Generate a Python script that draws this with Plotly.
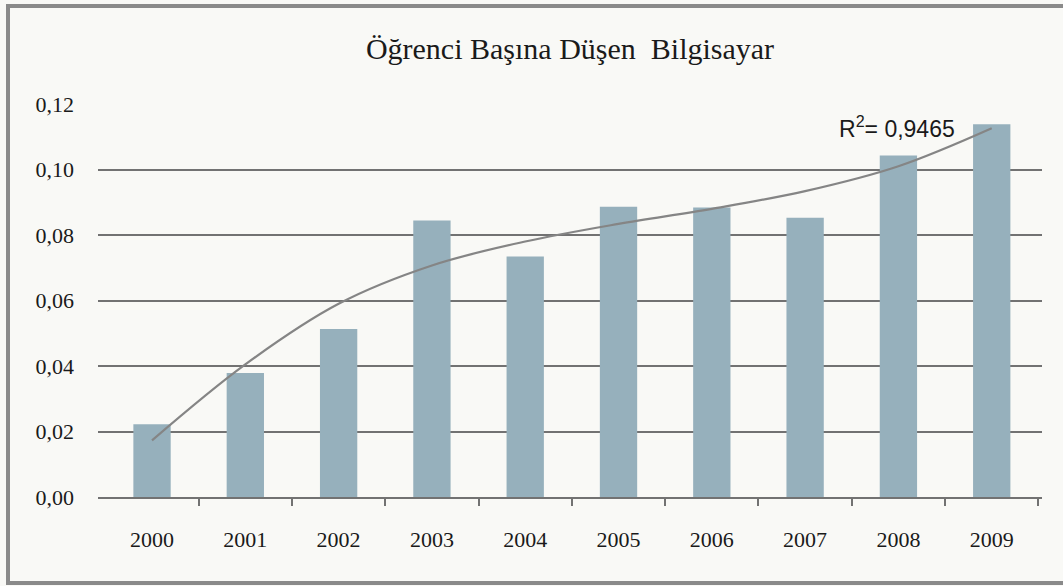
import plotly.graph_objects as go

years = [2000, 2001, 2002, 2003, 2004, 2005, 2006, 2007, 2008, 2009]
values = [0.0222, 0.0379, 0.0513, 0.0844, 0.0734, 0.0886, 0.0884, 0.0853, 0.1043, 0.1138]
trend = [0.0173, 0.0405, 0.0590, 0.0707, 0.0780, 0.0834, 0.0880, 0.0934, 0.1010, 0.1126]
year_labels = [str(y) for y in years]
y_ticks = [0.00, 0.02, 0.04, 0.06, 0.08, 0.10, 0.12]
title_text = "Öğrenci Başına Düşen  Bilgisayar"
r2_text = "R<sup>2</sup>= 0,9465"

W, H = 1063, 586
L, R, T, B = 98, 21, 104, 89
pw, ph = W - L - R, H - T - B

def px_x(p):
    return (p - L) / pw

def px_y(p):
    return (H - B - p) / ph

grid_col = "#727272"
fig = go.Figure()
fig.add_trace(go.Bar(x=years, y=values, marker=dict(color="#96B0BC", line=dict(width=0)),
                     width=0.4, showlegend=False))
fig.add_trace(go.Scatter(x=years, y=trend, mode="lines",
                         line=dict(color="#858585", width=2.2, shape="spline", smoothing=1.0),
                         showlegend=False))

fig.update_layout(
    width=W, height=H,
    margin=dict(l=L, r=R, t=T, b=B),
    paper_bgcolor="#F9F9F6",
    plot_bgcolor="#F9F9F6",
    separators=", ",
    title=dict(text=title_text, x=0.5, xref="paper", xanchor="center",
               y=1 - 48 / H, yanchor="middle",
               font=dict(family="Liberation Serif", size=30, color="#1a1a1a")),
    xaxis=dict(
        range=[years[0] - 0.579, years[0] - 0.579 + pw / 93.3],
        tickvals=years, ticktext=year_labels, ticks="",
        showgrid=False, zeroline=False,
        showline=True, linecolor=grid_col, linewidth=2,
        tickfont=dict(family="Liberation Serif", size=22, color="#1a1a1a"),
        ticklabelstandoff=22,
        minor=dict(tickvals=[y + 0.5 for y in years], ticks="outside", ticklen=7,
                   tickwidth=2, tickcolor=grid_col, showgrid=False),
    ),
    yaxis=dict(
        range=[0, 0.12], tickvals=y_ticks, tickformat=".2f",
        showgrid=True, gridcolor=grid_col, gridwidth=2,
        zeroline=False, showline=False, ticks="",
        tickfont=dict(family="Liberation Serif", size=22, color="#1a1a1a"),
        ticklabelstandoff=23,
    ),
    font=dict(family="Liberation Serif"),
    annotations=[dict(text=r2_text, xref="paper", yref="paper",
                      x=px_x(897), y=px_y(127), xanchor="center", yanchor="middle",
                      showarrow=False,
                      font=dict(family="Liberation Sans", size=23, color="#1a1a1a"))],
    shapes=[dict(type="rect", xref="paper", yref="paper",
                 x0=px_x(8), x1=px_x(1070), y0=px_y(583), y1=px_y(6),
                 line=dict(color="#8a8a8a", width=4), layer="below")],
)

fig.write_html("out.html", config={"displayModeBar": False},
               post_script="document.body.style.margin='0';")
